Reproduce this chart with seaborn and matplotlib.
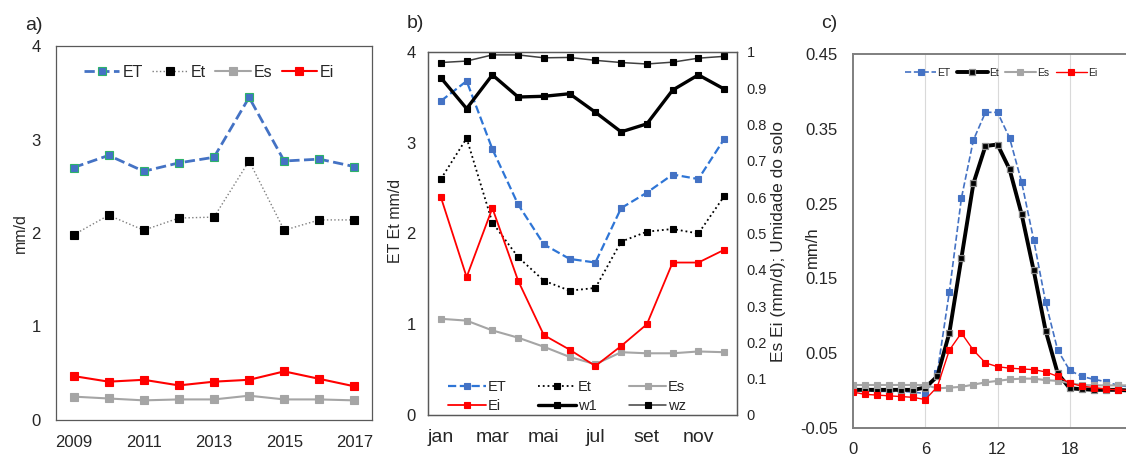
import matplotlib
matplotlib.use("Agg")
import matplotlib.pyplot as plt
import seaborn as sns

# ---------------- a) annual means ----------------
years = [2009, 2010, 2011, 2012, 2013, 2014, 2015, 2016, 2017]
year_ticks = [2009, 2011, 2013, 2015, 2017]
annual_ET = [2.70, 2.83, 2.66, 2.75, 2.81, 3.45, 2.77, 2.79, 2.71]
annual_Et = [1.98, 2.19, 2.03, 2.16, 2.17, 2.77, 2.03, 2.14, 2.14]
annual_Es = [0.25, 0.23, 0.21, 0.22, 0.22, 0.26, 0.22, 0.22, 0.21]
annual_Ei = [0.47, 0.41, 0.43, 0.37, 0.41, 0.43, 0.52, 0.44, 0.36]

# ---------------- b) monthly means ----------------
months = [1, 2, 3, 4, 5, 6, 7, 8, 9, 10, 11, 12]
month_ticks = [1, 3, 5, 7, 9, 11]
month_labels = ["jan", "mar", "mai", "jul", "set", "nov"]
monthly_ET = [3.46, 3.68, 2.93, 2.32, 1.88, 1.72, 1.68, 2.28, 2.45, 2.65, 2.60, 3.04]
monthly_Et = [2.60, 3.05, 2.12, 1.74, 1.48, 1.37, 1.40, 1.91, 2.02, 2.05, 2.00, 2.41]
monthly_Es = [0.265, 0.26, 0.233, 0.213, 0.188, 0.16, 0.14, 0.173, 0.17, 0.17, 0.175, 0.173]
monthly_Ei = [0.60, 0.38, 0.57, 0.37, 0.22, 0.18, 0.135, 0.19, 0.25, 0.42, 0.42, 0.455]
monthly_w1 = [0.929, 0.844, 0.937, 0.876, 0.878, 0.885, 0.834, 0.780, 0.802, 0.895, 0.937, 0.898]
monthly_wz = [0.971, 0.975, 0.992, 0.992, 0.984, 0.985, 0.977, 0.971, 0.967, 0.972, 0.983, 0.988]

# ---------------- c) mean daily cycle ----------------
hours = list(range(24))
hour_ticks = [0, 6, 12, 18]
hourly_ET = [0.0, 0.0, -0.001, -0.001, -0.001, -0.002, -0.004, 0.024, 0.132, 0.257,
             0.335, 0.372, 0.372, 0.338, 0.279, 0.202, 0.118, 0.054, 0.027, 0.019,
             0.015, 0.012, 0.007, 0.005]
hourly_Et = [0.001, 0.001, 0.001, 0.001, 0.001, 0.001, 0.004, 0.019, 0.077, 0.177,
             0.277, 0.327, 0.329, 0.296, 0.236, 0.161, 0.080, 0.023, 0.003, 0.002,
             0.001, 0.001, 0.001, 0.0]
hourly_Es = [0.0075, 0.0075, 0.0075, 0.0075, 0.0075, 0.0075, 0.0075, 0.003, 0.004, 0.005,
             0.008, 0.011, 0.013, 0.015, 0.016, 0.016, 0.014, 0.013, 0.010, 0.0075,
             0.007, 0.007, 0.007, 0.007]
hourly_Ei = [-0.002, -0.005, -0.006, -0.007, -0.008, -0.009, -0.012, 0.005, 0.054, 0.077,
             0.054, 0.037, 0.032, 0.030, 0.029, 0.028, 0.025, 0.019, 0.010, 0.006,
             0.004, 0.002, 0.001, 0.0]

BLUE = "#4472C4"
BLUE_LINE = "#2E75D6"
RED = "#FF0000"
GREY = "#A5A5A5"
SPINE = "#595959"

sns.set_theme(style="white")
plt.rcParams["font.family"] = ["Liberation Sans", "DejaVu Sans"]
plt.rcParams["text.color"] = "#262626"
plt.rcParams["xtick.color"] = "#262626"
plt.rcParams["ytick.color"] = "#262626"

W, H = 1126, 458
fig = plt.figure(figsize=(W / 100, H / 100), dpi=100)


def px_axes(left, top, right, bottom):
    return fig.add_axes([left / W, 1 - bottom / H, (right - left) / W, (bottom - top) / H])


def series(ax, x, y, color, ls="-", lw=1.5, ms=5, mfc=None, mec=None, label=None, mew=0.8):
    sns.lineplot(x=x, y=y, ax=ax, color=color, linestyle=ls, linewidth=lw,
                 marker="s", markersize=ms,
                 markerfacecolor=mfc if mfc else color,
                 markeredgecolor=mec if mec else (mfc if mfc else color),
                 markeredgewidth=mew, label=label, legend=False)


def frame(ax, color=SPINE, lw=0.9):
    for s in ax.spines.values():
        s.set_visible(True)
        s.set_color(color)
        s.set_linewidth(lw)
    ax.set_xlabel("")
    ax.set_ylabel("")


# ---------------- panel a ----------------
ax_a = px_axes(56, 46, 372, 420)
series(ax_a, years, annual_ET, BLUE, ls="--", lw=2.0, ms=6, mec="#2DB36A", label="ET")
series(ax_a, years, annual_Et, "#000000", ls=":", lw=1.0, ms=6, label="Et")
series(ax_a, years, annual_Es, GREY, lw=1.5, ms=6, label="Es")
series(ax_a, years, annual_Ei, RED, lw=1.5, ms=6, label="Ei")
ax_a.lines[1].set_color("#7F7F7F")
ax_a.lines[1].set_markerfacecolor("#000000")
ax_a.lines[1].set_markeredgecolor("#000000")
ax_a.set_xlim(2008.5, 2017.5)
ax_a.set_ylim(0, 4)
ax_a.set_xticks(year_ticks)
ax_a.set_xticklabels([str(y) for y in year_ticks])
ax_a.set_yticks([0, 1, 2, 3, 4])
ax_a.set_yticklabels(["0", "1", "2", "3", "4"])
ax_a.tick_params(axis="both", length=0, labelsize=12)
ax_a.tick_params(axis="y", pad=11)
ax_a.tick_params(axis="x", pad=11)
frame(ax_a)
ax_a.legend(loc="center", bbox_to_anchor=(0.485, 0.93), ncol=4, frameon=False,
            fontsize=11.5, handlelength=2.2, handletextpad=0.2, columnspacing=0.6)
fig.text(20 / W, 1 - 233 / H, "mm/d", rotation=90, ha="center", va="center", fontsize=11.5)
fig.text(34 / W, 1 - 25 / H, "a)", ha="center", va="center", fontsize=14)

# ---------------- panel b ----------------
ax_b = px_axes(428, 52, 737, 415)
ax_b2 = ax_b.twinx()
series(ax_b, months, monthly_ET, BLUE_LINE, ls="--", lw=1.6, ms=5, mfc=BLUE, label="ET")
series(ax_b, months, monthly_Et, "#000000", ls=":", lw=1.3, ms=5, label="Et")
series(ax_b2, months, monthly_Es, GREY, lw=1.5, ms=5, label="Es")
series(ax_b2, months, monthly_Ei, RED, lw=1.3, ms=5, label="Ei")
series(ax_b2, months, monthly_w1, "#000000", lw=2.4, ms=5, label="w1")
series(ax_b2, months, monthly_wz, "#404040", lw=1.1, ms=5, mfc="#000000", label="wz")
ax_b.set_xlim(0.5, 12.5)
ax_b.set_ylim(0, 4)
ax_b2.set_ylim(0, 1)
ax_b.set_xticks(month_ticks)
ax_b.set_xticklabels(month_labels)
ax_b.set_yticks([0, 1, 2, 3, 4])
ax_b.set_yticklabels(["0", "1", "2", "3", "4"])
right_ticks = [i / 10 for i in range(11)]
ax_b2.set_yticks(right_ticks)
ax_b2.set_yticklabels(["0"] + [f"{v:.1f}" for v in right_ticks[1:-1]] + ["1"])
ax_b.tick_params(axis="y", length=0, labelsize=12, pad=9)
ax_b.tick_params(axis="x", length=0, labelsize=14, pad=10)
ax_b2.tick_params(axis="y", length=0, labelsize=10.5, pad=7)
frame(ax_b)
frame(ax_b2)
ax_b.grid(False)
ax_b2.grid(False)
h1, l1 = ax_b.get_legend_handles_labels()
h2, l2 = ax_b2.get_legend_handles_labels()
hd = dict(zip(l1 + l2, h1 + h2))
order = ["ET", "Ei", "Et", "w1", "Es", "wz"]
ax_b2.legend([hd[k] for k in order], order, loc="center", bbox_to_anchor=(0.45, 0.05),
             ncol=3, frameon=False, fontsize=10.5, handlelength=2.6, handletextpad=0.1,
             columnspacing=2.2, labelspacing=0.35)
fig.text(395 / W, 1 - 221 / H, "ET Et mm/d", rotation=90, ha="center", va="center", fontsize=11.5)
fig.text(778 / W, 1 - 241 / H, "Es Ei (mm/d); Umidade do solo", rotation=90,
         ha="center", va="center", fontsize=12.5)
fig.text(415 / W, 1 - 24 / H, "b)", ha="center", va="center", fontsize=14)

# ---------------- panel c ----------------
ax_c = px_axes(853, 54, 1142, 428)
for h in [6, 12, 18]:
    ax_c.axvline(h, color="#D9D9D9", lw=0.8, zorder=0)
series(ax_c, hours, hourly_ET, BLUE, ls="--", lw=1.2, ms=5, label="ET")
series(ax_c, hours, hourly_Et, "#000000", lw=2.8, ms=3.8, mfc="#000000", mec="#8C8C8C",
       mew=0.9, label="Et")
series(ax_c, hours, hourly_Es, GREY, lw=1.5, ms=5, label="Es")
series(ax_c, hours, hourly_Ei, RED, lw=1.0, ms=5, label="Ei")
ax_c.set_xlim(0, 24)
ax_c.set_ylim(-0.05, 0.45)
ax_c.set_xticks(hour_ticks)
ax_c.set_xticklabels([str(h) for h in hour_ticks])
c_ticks = [-0.05, 0.05, 0.15, 0.25, 0.35, 0.45]
ax_c.set_yticks(c_ticks)
ax_c.set_yticklabels([f"{v:.2f}" for v in c_ticks])
ax_c.tick_params(axis="both", length=0, labelsize=12)
ax_c.tick_params(axis="y", pad=11)
ax_c.tick_params(axis="x", pad=10)
frame(ax_c, color="#7F7F7F", lw=1.4)
ax_c.legend(loc="center", bbox_to_anchor=(0.512, 0.949), ncol=4, frameon=False,
            fontsize=7.5, handlelength=3.0, handletextpad=0.1, columnspacing=0.6)
fig.text(812 / W, 1 - 247 / H, "mm/h", rotation=90, ha="center", va="center", fontsize=12)
fig.text(829 / W, 1 - 24 / H, "c)", ha="center", va="center", fontsize=14)

fig.savefig("out.png", dpi=100)
